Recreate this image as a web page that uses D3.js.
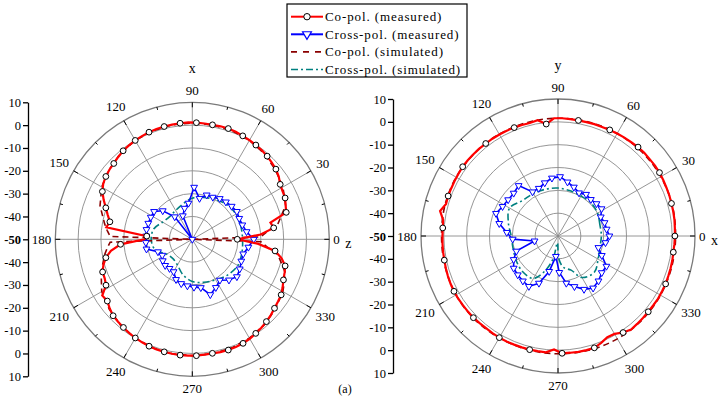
<!DOCTYPE html>
<html>
<head>
<meta charset="utf-8">
<script src="https://cdn.jsdelivr.net/npm/d3@7/dist/d3.min.js"></script>
<style>
body{margin:0;background:#fff;}
svg text{font-family:"Liberation Serif","Times New Roman",serif;fill:#000;}
</style>
</head>
<body>
<div id="chart"></div>
<script>
// ---- data (dB, angle in degrees) ----
var angleTicks = [0,30,60,90,120,150,180,210,240,270,300,330];
var ringTicks = [-40,-30,-20,-10,0];
var legendNames = ["Co-pol. (measured)","Cross-pol. (measured)","Co-pol. (simulated)","Cross-pol. (simulated)"];

var angCoMeas = d3.range(0, 360, 4);
var angXMeas = d3.range(0, 360, 8);

// left panel (xz)
var coMeasL = [-30.3,-20,-14,-15,-7.2,-6.5,-5.5,-5.2,-4.6,-3.2,-2.2,-1.6,-1.0,-0.5,-0.2,0.1,0.4,0.8,1.0,1.0,
  0.9,1.0,1.1,1.2,1.1,1.0,0.9,0.8,0.6,0.3,0.0,-0.4,-0.8,-1.5,-2.2,-2.6,-3.2,-4.0,-5.4,-7.5,
  -9.7,-11.5,-13.1,-12,-30,-29,-18.5,-14,-11.3,-9.5,-8.2,-8.0,-7.2,-3.5,-4.0,-2.8,-1.8,-1.4,-1.0,-0.5,
  -0.1,0.2,0.5,0.7,0.8,0.9,1.0,1.0,1.0,0.8,0.7,0.9,1.0,0.9,0.7,0.3,-0.3,-0.9,-1.5,-2.2,
  -3.0,-3.6,-4.1,-5.2,-6.3,-7.0,-7.7,-10,-13.4,-21];
var xMeasL = [-23.1,-26,-27.2,-27.5,-27,-27.5,-28,-28.5,-29.5,-29.6,-31.8,-27.2,-34.1,-36,-38.9,-50,
  -37.5,-32,-29.3,-29.4,-29.5,-29.5,-29.7,-29.6,-29.5,-34,-35.1,-34,-33.5,-33.8,-33.6,-31,
  -30,-29.5,-29,-28.5,-24.5,-26.5,-28.4,-26,-24.5,-25.5,-26.5,-26.8,-25.2];
var angCoSimL = [0,2,6,10,20,30,40,50,60,70,80,90,100,110,120,130,140,150,160,170,174,178,180,
  182,186,190,200,210,220,230,240,250,260,270,280,290,300,310,320,330,340,350,354,358];
var coSimL = [-50,-20,-17,-12,-6.5,-4.2,-2.5,-1.0,0,0.6,0.9,1.0,0.9,0.6,0,-1.0,-2.5,-4.2,-7,-11,-12.5,-14,-50,
  -14,-12.5,-11,-7.5,-4.2,-2.5,-1.0,0,0.6,0.9,1.0,0.9,0.6,0,-1.0,-2.5,-4.2,-6.5,-12,-17,-20];
var angXSimL = [0,15,30,45,60,75,90,105,120,135,150,165,180,195,210,225,240,255,270,285,300,315,330,345];
var xSimL = [-28,-28,-28,-28.5,-30,-31,-32,-34,-35.4,-36,-35,-32.5,-32,-33,-37,-38,-37,-34,-31.5,-30.5,-29.5,-28,-27,-27.5];

// right panel (xy)
var coMeasR = [1.2,1.3,1.5,1.6,1.7,1.9,2.0,2.2,2.4,2.5,2.4,2.5,2.4,2.1,2.0,1.8,1.7,1.5,1.5,1.4,
  1.4,1.5,1.6,1.6,-0.7,1.5,1.0,1.1,1.2,1.3,1.3,1.4,1.4,1.5,1.5,1.6,1.6,1.4,1.3,1.2,
  1.2,1.0,2.8,0.8,0.6,0.6,0.7,0.8,0.9,1.1,1.3,1.5,1.6,1.6,1.5,1.5,1.5,1.3,1.2,1.3,
  1.4,1.4,1.3,1.3,1.3,1.2,1.2,-0.3,1.4,1.4,1.5,1.5,1.5,0.5,-0.7,-0.5,1.0,2.0,1.8,1.7,
  1.6,1.6,1.7,1.6,1.6,1.4,1.3,1.2,1.0,1.1];
var xMeasR = [-27.5,-28.5,-28.8,-29.5,-27.5,-28,-28.5,-28,-29,-27.5,-26,-24,-24.5,-26,-27.5,-27.7,
  -22,-23,-23,-22.5,-21.1,-23.7,-27.5,-30.1,-39.5,-30.6,-28,-26,-25.5,-25,-24.5,-27.7,
  -34,-41,-34,-29,-26.7,-24,-22.5,-23.5,-25,-25,-29,-31.6,-29];
var angCoSimR = [0,15,30,45,60,75,90,105,120,135,150,165,180,195,210,225,240,255,270,285,300,315,330,345];
var coSimR = [1.5,1.8,2.0,2.0,1.8,1.7,1.6,1.5,1.5,1.5,1.5,1.3,1.0,1.2,1.6,1.6,1.5,1.5,1.6,1.8,2.0,2.0,1.8,1.6];
var angXSimR = [0,15,30,45,60,75,90,105,120,135,150,165,180,195,210,225,240,250,258,265,272,280,291,300,315,330,345];
var xSimR = [-31,-31,-30,-29.5,-29.8,-29.5,-29,-28.8,-28.5,-28,-25.5,-27.5,-29.5,-29.6,-28.8,-28,-28.5,
  -34,-40,-47,-40,-36,-34,-29,-27.5,-29.7,-31];

// ---- drawing ----
var width = 720, height = 396;
var R = 137;
var col = {co:"#ff0000", x:"#0000ff", coSim:"#8b0000", xSim:"#008080"};

var svg = d3.select("#chart").append("svg")
    .attr("width", width)
    .attr("height", height);

var r = d3.scaleLinear().domain([-50, 10]).range([0, R]).clamp(true);

function rad(a){ return a * Math.PI / 180; }
function zip(a, v){ return a.map(function(d, i){ return [d, v[i]]; }); }
function labelR(d){
  var hw = String(d).length * 3.3;
  return 141 + hw * Math.abs(Math.cos(rad(d))) + 8 * Math.abs(Math.sin(rad(d)));
}

function polar(cx, cy, axisX, topTitle, sideTitle, s){
  var g = svg.append("g").attr("transform", "translate(" + cx + "," + cy + ")");

  g.selectAll(".ring").data(ringTicks).enter().append("circle")
    .attr("r", d => r(d))
    .attr("fill", "none")
    .attr("stroke", "#8a8a8a")
    .attr("stroke-width", 0.9);
  g.append("circle").attr("r", R)
    .attr("fill", "none").attr("stroke", "#7a7a7a").attr("stroke-width", 1.3);

  g.selectAll(".spoke").data(angleTicks).enter().append("line")
    .attr("x1", 0).attr("y1", 0)
    .attr("x2", d => R * Math.cos(rad(d)))
    .attr("y2", d => -R * Math.sin(rad(d)))
    .attr("stroke", "#8a8a8a").attr("stroke-width", 0.9);

  // ticks on the outer ring, pointing inwards
  var ticks = angleTicks.map(d => [d, 5]).concat(angleTicks.map(d => [d + 15, 3]));
  g.selectAll(".tk").data(ticks).enter().append("line")
    .attr("x1", d => R * Math.cos(rad(d[0])))
    .attr("y1", d => -R * Math.sin(rad(d[0])))
    .attr("x2", d => (R - d[1]) * Math.cos(rad(d[0])))
    .attr("y2", d => -(R - d[1]) * Math.sin(rad(d[0])))
    .attr("stroke", "#000").attr("stroke-width", 1);

  g.selectAll(".al").data(angleTicks).enter().append("text")
    .attr("x", d => labelR(d) * Math.cos(rad(d)))
    .attr("y", d => -labelR(d) * Math.sin(rad(d)))
    .attr("text-anchor", "middle")
    .attr("dominant-baseline", "central")
    .style("font-size", "13px")
    .text(d => d);

  g.append("text").attr("x", 0).attr("y", -171)
    .attr("text-anchor", "middle").attr("dominant-baseline", "central")
    .style("font-size", "14px").text(topTitle);
  g.append("text").attr("x", 153).attr("y", 4)
    .attr("dominant-baseline", "central")
    .style("font-size", "14px").text(sideTitle);

  var line = d3.lineRadial()
    .angle(d => rad(90 - d[0]))
    .radius(d => r(d[1]))
    .curve(d3.curveLinearClosed);
  var smooth = d3.lineRadial()
    .angle(d => rad(90 - d[0]))
    .radius(d => r(d[1]))
    .curve(d3.curveCatmullRomClosed.alpha(0.5));

  g.append("path").datum(zip(s.xSimA, s.xSim))
    .attr("d", smooth).attr("fill", "none")
    .attr("stroke", col.xSim).attr("stroke-width", 1.6)
    .attr("stroke-dasharray", "7,3,2,3");

  g.append("path").datum(zip(s.coSimA, s.coSim))
    .attr("d", s.coSimSmooth ? smooth : line).attr("fill", "none")
    .attr("stroke", col.coSim).attr("stroke-width", 1.6)
    .attr("stroke-dasharray", "6,4");

  g.append("path").datum(zip(angXMeas, s.xMeas))
    .attr("d", line).attr("fill", "none")
    .attr("stroke", col.x).attr("stroke-width", 1.6);
  g.selectAll(".tri").data(zip(angXMeas, s.xMeas)).enter().append("path")
    .attr("d", d3.symbol(d3.symbolTriangle).size(20))
    .attr("transform", d => "translate(" + (r(d[1]) * Math.cos(rad(d[0]))) + "," + (-r(d[1]) * Math.sin(rad(d[0]))) + ") rotate(180)")
    .attr("fill", "#fff").attr("stroke", col.x).attr("stroke-width", 1);

  g.append("path").datum(zip(angCoMeas, s.coMeas))
    .attr("d", line).attr("fill", "none")
    .attr("stroke", col.co).attr("stroke-width", 2.2);
  g.selectAll(".mk").data(zip(angCoMeas, s.coMeas).filter(d => d[0] % s.mkStep == 0)).enter().append("circle")
    .attr("cx", d => r(d[1]) * Math.cos(rad(d[0])))
    .attr("cy", d => -r(d[1]) * Math.sin(rad(d[0])))
    .attr("r", 2.9)
    .attr("fill", "#fff").attr("stroke", "#000").attr("stroke-width", 1);

  // left dB axis, mirrored about the centre
  var y = d3.scaleLinear().domain([-60, 60]).range([cy + R, cy - R]);
  var ax = svg.append("g").attr("transform", "translate(" + axisX + ",0)");
  ax.call(d3.axisLeft(y).tickValues(d3.range(-55, 60, 10)).tickSize(3).tickSizeOuter(0).tickFormat(""));
  ax.call(d3.axisLeft(y).tickValues(d3.range(-60, 61, 10)).tickSize(5).tickSizeOuter(0)
    .tickFormat(p => Math.abs(p) - 50));
  ax.selectAll("path, line").attr("stroke", "#000").attr("stroke-width", 1.3);
  ax.selectAll("text").style("font-size", "12.5px")
    .style("font-family", "'Liberation Serif',serif")
    .style("font-weight", d => d == 0 ? "bold" : "normal")
    .attr("x", -7);
}

polar(192.3, 239.3, 28, "x", "z", {
  coMeas: coMeasL, xMeas: xMeasL, coSimA: angCoSimL, coSim: coSimL,
  xSimA: angXSimL, xSim: xSimL, mkStep: 8, coSimSmooth: false
});
polar(558, 236, 393, "y", "x", {
  coMeas: coMeasR, xMeas: xMeasR, coSimA: angCoSimR, coSim: coSimR,
  xSimA: angXSimR, xSim: xSimR, mkStep: 16, coSimSmooth: true
});

// legend
var lg = svg.append("g").attr("transform", "translate(287,4)");
lg.append("rect").attr("width", 180).attr("height", 73)
  .attr("fill", "#fff").attr("stroke", "#000").attr("stroke-width", 1.2);
var lgStyle = [
  {c: col.co, w: 2, dash: null, mk: "circle"},
  {c: col.x, w: 2, dash: null, mk: "tri"},
  {c: col.coSim, w: 1.6, dash: "6,6", mk: null},
  {c: col.xSim, w: 1.6, dash: "7,3,2,3", mk: null}
];
var row = lg.selectAll(".row").data(legendNames).enter().append("g")
  .attr("transform", (d, i) => "translate(0," + (12.7 + i * 17.6) + ")");
row.append("line")
  .attr("x1", 4).attr("x2", 36).attr("y1", 0).attr("y2", 0)
  .attr("stroke", (d, i) => lgStyle[i].c)
  .attr("stroke-width", (d, i) => lgStyle[i].w)
  .attr("stroke-dasharray", (d, i) => lgStyle[i].dash);
row.filter((d, i) => lgStyle[i].mk == "circle").append("circle")
  .attr("cx", 20).attr("r", 3.2).attr("fill", "#fff").attr("stroke", "#000");
row.filter((d, i) => lgStyle[i].mk == "tri").append("path")
  .attr("d", d3.symbol(d3.symbolTriangle).size(34))
  .attr("transform", "translate(20,0) rotate(180)")
  .attr("fill", "#fff").attr("stroke", col.x).attr("stroke-width", 1.2);
row.append("text")
  .attr("x", 38).attr("y", 0)
  .attr("dominant-baseline", "central")
  .style("font-size", "13px").style("letter-spacing", "0.9px")
  .text(d => d);

svg.append("text").attr("x", 345).attr("y", 393)
  .attr("text-anchor", "middle").style("font-size", "12px").text("(a)");
</script>
</body>
</html>
